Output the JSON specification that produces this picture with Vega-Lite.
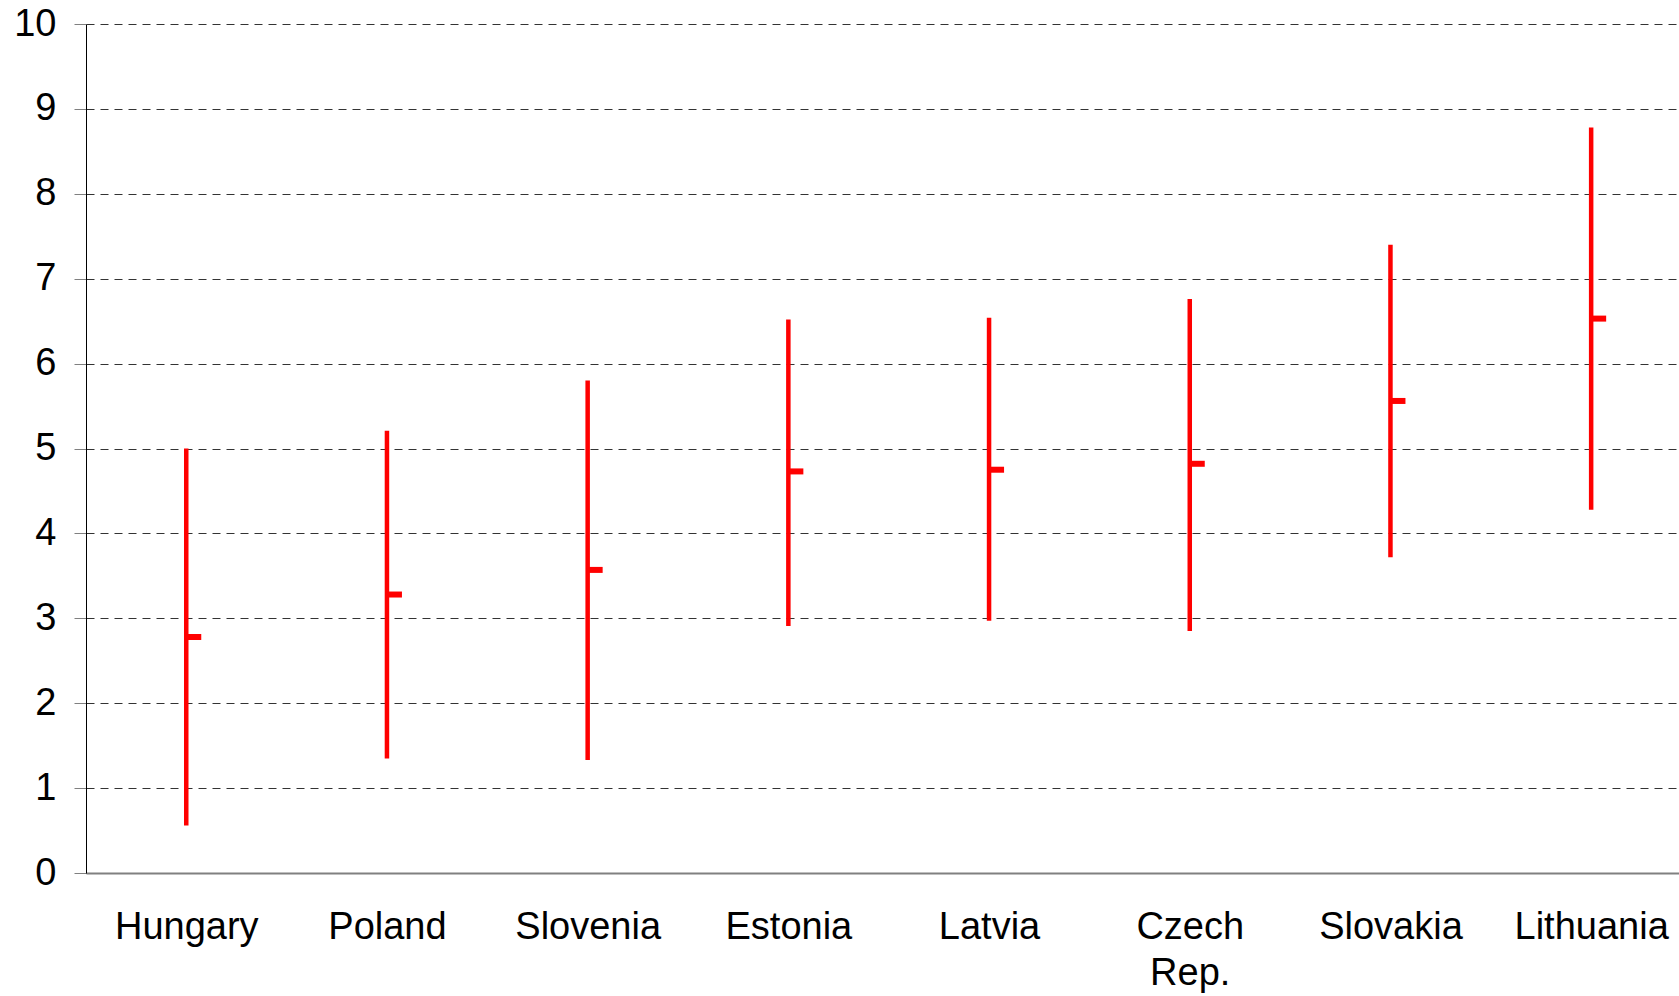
{
  "$schema": "https://vega.github.io/schema/vega-lite/v6.json",
  "autosize": {"type": "none"},
  "padding": {"left": 86, "top": 24, "right": 0, "bottom": 123},
  "width": 1593,
  "height": 849,
  "background": "white",
  "config": {
    "view": {"stroke": null},
    "font": "Liberation Sans"
  },
  "data": {
    "values": [
      {"country": "Hungary", "low": 0.56, "high": 5.0, "mid": 2.78},
      {"country": "Poland", "low": 1.35, "high": 5.21, "mid": 3.28},
      {"country": "Slovenia", "low": 1.33, "high": 5.8, "mid": 3.57},
      {"country": "Estonia", "low": 2.91, "high": 6.52, "mid": 4.73},
      {"country": "Latvia", "low": 2.97, "high": 6.54, "mid": 4.75},
      {"country": "Czech Rep.", "low": 2.85, "high": 6.76, "mid": 4.82},
      {"country": "Slovakia", "low": 3.72, "high": 7.4, "mid": 5.56},
      {"country": "Lithuania", "low": 4.28, "high": 8.78, "mid": 6.53}
    ]
  },
  "encoding": {
    "x": {
      "field": "country",
      "type": "nominal",
      "sort": null,
      "scale": {"type": "point", "padding": 0.4686, "align": 0.533},
      "axis": {
        "title": null,
        "labelAngle": 0,
        "labelFont": "Liberation Sans",
        "labelFontSize": 38,
        "labelColor": "black",
        "labelPadding": 35,
        "labelLineHeight": 46,
        "labelExpr": "split(datum.label, ' ')",
        "ticks": false,
        "domainColor": "#808080",
        "domainWidth": 2,
        "grid": false
      }
    }
  },
  "layer": [
    {
      "mark": {"type": "rule", "color": "#FF0000", "strokeWidth": 4.5},
      "encoding": {
        "y": {
          "field": "low",
          "type": "quantitative",
          "scale": {"domain": [0, 10], "nice": false},
          "axis": {
            "title": null,
            "values": [0, 1, 2, 3, 4, 5, 6, 7, 8, 9, 10],
            "format": "d",
            "labelFont": "Liberation Sans",
            "labelFontSize": 38,
            "labelColor": "black",
            "labelPadding": 18,
            "tickSize": 12,
            "tickColor": "#808080",
            "domainColor": "black",
            "domainWidth": 1,
            "grid": true,
            "gridColor": "#333333",
            "gridDash": [8, 6],
            "gridWidth": 1
          }
        },
        "y2": {"field": "high"}
      }
    },
    {
      "mark": {"type": "tick", "color": "#FF0000", "orient": "horizontal", "size": 15, "thickness": 6, "xOffset": 7.5, "opacity": 1},
      "encoding": {
        "y": {"field": "mid", "type": "quantitative"}
      }
    }
  ]
}
